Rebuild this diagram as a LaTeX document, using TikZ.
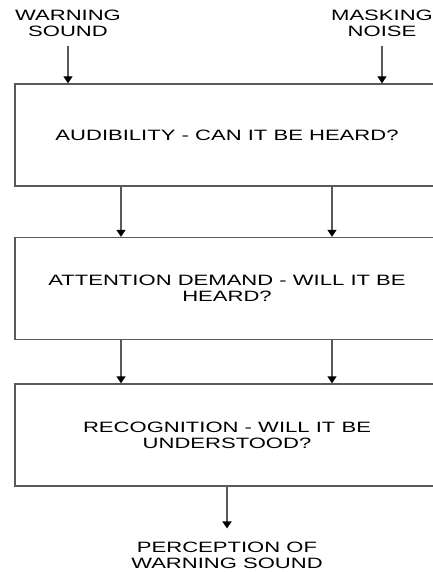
\documentclass[tikz,border=0pt]{standalone}
\usepackage{fontspec}
\setmainfont[FakeStretch=1.47]{Liberation Sans}
\usetikzlibrary{arrows.meta}
\begin{document}
\begin{tikzpicture}[x=1pt,y=-1pt,
  every node/.style={font=\fontsize{15}{16}\selectfont},
  box/.style={draw=black!65, line width=1.4pt, minimum width=424pt, minimum height=102pt, align=center, inner sep=0pt},
  txt/.style={align=center, inner sep=0pt},
  arr/.style={draw=black!65, line width=1.4pt, -{Triangle[width=9pt,length=7pt,color=black]}}]
\useasboundingbox (0,0) rectangle (433,572);
\clip (0,0) rectangle (433,572);
% the three stages
\node [box] (aud) at (227,135) {AUDIBILITY - CAN IT BE HEARD?};
\node [box] (att) at (227,288.5) {ATTENTION DEMAND - WILL IT BE\\HEARD?};
\node [box] (rec) at (227,435) {RECOGNITION - WILL IT BE\\UNDERSTOOD?};
% inputs and output
\node [txt] (warn) at (68,23) {WARNING\\SOUND};
\node [txt] (mask) at (382,23) {MASKING\\NOISE};
\node [txt] (perc) at (227,555) {PERCEPTION OF\\WARNING SOUND};
\coordinate (lft) at (121,0);
\coordinate (rgt) at (332,0);
\draw [arr] ([yshift=-9pt]warn.south) -- (aud.north -| warn);
\draw [arr] ([yshift=-9pt]mask.south) -- (aud.north -| mask);
\draw [arr] (aud.south -| lft) -- (att.north -| lft);
\draw [arr] (aud.south -| rgt) -- (att.north -| rgt);
\draw [arr] (att.south -| lft) -- (rec.north -| lft);
\draw [arr] (att.south -| rgt) -- (rec.north -| rgt);
\draw [arr] (rec.south) -- ([yshift=13pt]perc.north);
\end{tikzpicture}
\end{document}
